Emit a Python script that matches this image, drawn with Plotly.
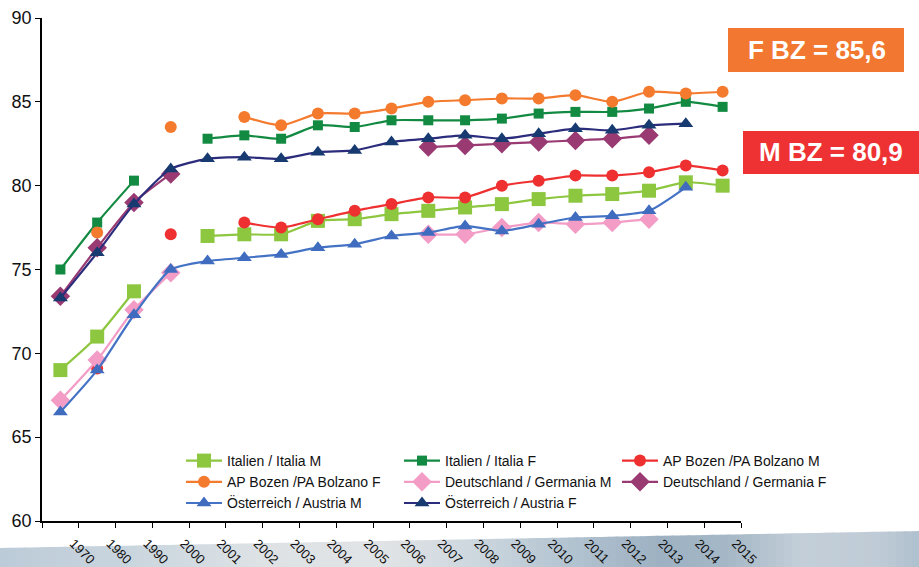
import plotly.graph_objects as go

years = ["1970", "1980", "1990", "2000", "2001", "2002", "2003", "2004", "2005", "2006",
         "2007", "2008", "2009", "2010", "2011", "2012", "2013", "2014", "2015"]

italia_m = [69.0, 71.0, 73.7, None, 77.0, 77.1, 77.1, 77.9, 78.0, 78.3, 78.5, 78.7, 78.9, 79.2, 79.4, 79.5, 79.7, 80.2, 80.0]
italia_f = [75.0, 77.8, 80.3, None, 82.8, 83.0, 82.8, 83.6, 83.5, 83.9, 83.9, 83.9, 84.0, 84.3, 84.4, 84.4, 84.6, 85.0, 84.7]
bz_m = [None, 69.1, None, 77.1, None, 77.8, 77.5, 78.0, 78.5, 78.9, 79.3, 79.3, 80.0, 80.3, 80.6, 80.6, 80.8, 81.2, 80.9]
bz_f = [None, 77.2, None, 83.5, None, 84.1, 83.6, 84.3, 84.3, 84.6, 85.0, 85.1, 85.2, 85.2, 85.4, 85.0, 85.6, 85.5, 85.6]
de_m = [67.2, 69.6, 72.6, 74.8, None, None, None, None, None, None, 77.1, 77.1, 77.5, 77.8, 77.7, 77.8, 78.0, None, None]
de_f = [73.4, 76.3, 79.0, 80.7, None, None, None, None, None, None, 82.3, 82.4, 82.5, 82.6, 82.7, 82.8, 83.0, None, None]
at_m = [66.5, 69.0, 72.3, 75.0, 75.5, 75.7, 75.9, 76.3, 76.5, 77.0, 77.2, 77.6, 77.3, 77.7, 78.1, 78.2, 78.5, 79.9, None]
at_f = [73.3, 76.0, 78.9, 81.0, 81.6, 81.7, 81.6, 82.0, 82.1, 82.6, 82.8, 83.0, 82.8, 83.1, 83.4, 83.3, 83.6, 83.7, None]

series = [
    ("Italien / Italia M", italia_m, "#8DC63F", "#8DC63F", "square", 14),
    ("Italien / Italia F", italia_f, "#138A42", "#138A42", "square", 10),
    ("AP Bozen /PA Bolzano M", bz_m, "#EE3030", "#EE3030", "circle", 12),
    ("AP Bozen /PA Bolzano F", bz_f, "#F47A2E", "#F47A2E", "circle", 12),
    ("Deutschland / Germania M", de_m, "#F29CC6", "#F29CC6", "diamond", 15),
    ("Deutschland / Germania F", de_f, "#993A73", "#993A73", "diamond", 15),
    ("Österreich / Austria M", at_m, "#4472C4", "#3F6CBF", "triangle-up", 13),
    ("Österreich / Austria F", at_f, "#2B2C7C", "#173A70", "triangle-up", 13),
]

W, H = 919, 567
ML, MR, MT, MB = 42, 178, 18, 46
PW, PH = W - ML - MR, H - MT - MB


def px(x):
    return (x - ML) / PW


def py(y):
    return (H - MB - y) / PH


def hex2rgb(h):
    h = h.lstrip("#")
    return tuple(int(h[i:i + 2], 16) for i in (0, 2, 4))


fig = go.Figure()
for name, vals, lc, mc, sym, size in series:
    fig.add_trace(go.Scatter(
        x=years, y=vals, name=name, mode="lines+markers",
        line=dict(color=lc, width=2.2, shape="spline", smoothing=0.6),
        marker=dict(symbol=sym, size=size, color=mc),
        connectgaps=False,
    ))

shapes = []
# decorative gradient band at the bottom
stops = [(0, "#BCCBD8"), (150, "#CCD7DF"), (260, "#DDE2E5"), (380, "#E1E4E6"),
         (480, "#CCD6DE"), (560, "#B5C5D2"), (660, "#9DB1C2"), (730, "#A6B8C7"),
         (800, "#C3CED8"), (880, "#BFCBD6"), (919, "#AFC0CE")]


def col_at(x):
    for (xa, ca), (xb, cb) in zip(stops[:-1], stops[1:]):
        if xa <= x <= xb:
            t = (x - xa) / (xb - xa)
            a, b = hex2rgb(ca), hex2rgb(cb)
            return "rgb(%d,%d,%d)" % tuple(round(a[k] + (b[k] - a[k]) * t) for k in range(3))
    return stops[-1][1]


step = 8
for x0 in range(0, W, step):
    x1 = min(x0 + step, W)
    t0 = 548 - (548 - 531) * x0 / W
    t1 = 548 - (548 - 531) * x1 / W
    path = (f"M {px(x0)} {py(t0)} L {px(x1 + 0.8)} {py(t1)} "
            f"L {px(x1 + 0.8)} {py(H + 2)} L {px(x0)} {py(H + 2)} Z")
    shapes.append(dict(type="path", xref="paper", yref="paper", path=path,
                       fillcolor=col_at(x0 + step / 2), line=dict(width=0), layer="below"))

# value boxes
shapes.append(dict(type="rect", xref="paper", yref="paper", x0=px(728), x1=px(904),
                   y0=py(72), y1=py(28), fillcolor="#F27730", line=dict(width=0)))
shapes.append(dict(type="rect", xref="paper", yref="paper", x0=px(743), x1=px(921),
                   y0=py(174), y1=py(131), fillcolor="#EE3233", line=dict(width=0)))

annotations = [
    dict(text="<b>F BZ = 85,6</b>", xref="paper", yref="paper", x=px(817), y=py(50),
         showarrow=False, font=dict(family="Liberation Sans, Arial", size=26, color="white"),
         xanchor="center", yanchor="middle"),
    dict(text="<b>M BZ = 80,9</b>", xref="paper", yref="paper", x=px(831), y=py(152),
         showarrow=False, font=dict(family="Liberation Sans, Arial", size=26, color="white"),
         xanchor="center", yanchor="middle"),
]

fig.update_layout(
    width=W, height=H,
    margin=dict(l=ML, r=MR, t=MT, b=MB, pad=0, autoexpand=False),
    paper_bgcolor="white", plot_bgcolor="white",
    font=dict(family="Liberation Sans, Arial", color="#111111"),
    showlegend=True,
    legend=dict(orientation="h", x=px(181), y=py(445), xanchor="left", yanchor="top",
                entrywidth=167, entrywidthmode="pixels", itemwidth=36,
                font=dict(size=14, family="Liberation Sans, Arial", color="#111111"),
                bgcolor="rgba(0,0,0,0)", tracegroupgap=0),
    shapes=shapes,
    annotations=annotations,
)
fig.update_xaxes(type="category", tickson="boundaries", ticks="outside", ticklen=5,
                 tickcolor="black", showline=True, linecolor="black", linewidth=1.5,
                 showgrid=False, tickangle=45, tickfont=dict(size=13, color="#111111"),
                 ticklabelshift=13, ticklabelstandoff=8, automargin=False,
                 range=[-0.5, 18.5])
fig.update_yaxes(range=[60, 90], dtick=5, ticks="outside", ticklen=5, tickcolor="black",
                 showline=True, linecolor="black", linewidth=1.5, showgrid=False,
                 zeroline=False, automargin=False, tickfont=dict(size=18, color="#111111"))

fig.write_html("out.html")
